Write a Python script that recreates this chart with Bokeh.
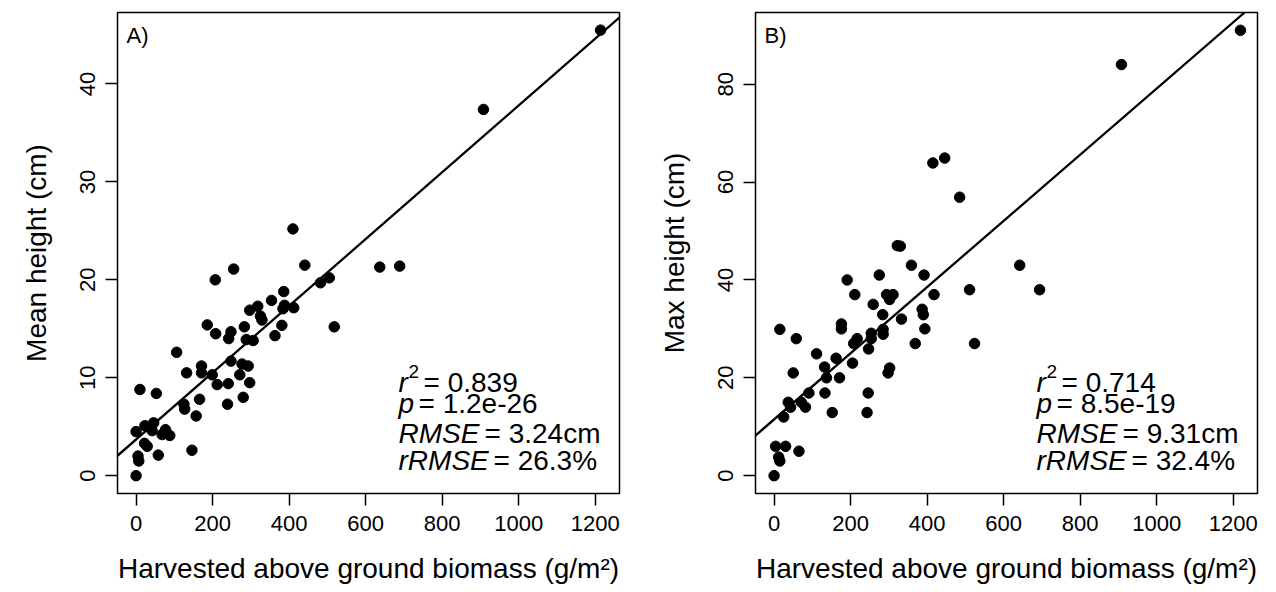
from bokeh.plotting import figure
from bokeh.models import Range1d, FixedTicker, Label, Slope
from bokeh.layouts import row
from bokeh.embed import file_html
from bokeh.resources import INLINE

FONT = "Liberation Sans"

# ---- data ----
biomass_a = [1214, 908, 410, 441, 637, 689, 255, 207, 505, 482, 386, 354, 318, 297, 388, 384,
             412, 325, 329, 186, 283, 381, 518, 208, 248, 242, 288, 306, 363, 106, 248, 277,
             293, 171, 132, 171, 199, 271, 212, 241, 297, 10, 53, 280, 125, 166, 127, 239,
             157, 46, 23, 0, 42, 77, 68, 88, 22, 29, 146, 58, 5, 7, 0]
mean_height = [45.5, 37.4, 25.2, 21.5, 21.3, 21.4, 21.1, 20.0, 20.2, 19.7, 18.8, 17.9, 17.3, 16.9, 17.4, 17.05,
               17.15, 16.3, 15.9, 15.4, 15.2, 15.35, 15.2, 14.5, 14.7, 14.0, 13.9, 13.8, 14.3, 12.6, 11.7, 11.4,
               11.2, 11.2, 10.5, 10.5, 10.3, 10.3, 9.3, 9.4, 9.5, 8.8, 8.4, 8.0, 7.3, 7.8, 6.8, 7.3,
               6.1, 5.4, 5.1, 4.5, 4.6, 4.7, 4.2, 4.1, 3.3, 3.0, 2.6, 2.1, 2.0, 1.5, 0.0]

biomass_b = [1219, 908, 415, 446, 485, 322, 330, 359, 642, 191, 275, 392, 211, 294, 311, 302,
             418, 511, 694, 259, 284, 387, 390, 333, 176, 176, 285, 285, 394, 254, 254, 217,
             208, 369, 524, 247, 15, 58, 111, 162, 132, 205, 302, 298, 50, 137, 171, 91,
             133, 246, 37, 71, 43, 82, 25, 152, 243, 4, 30, 65, 12, 15, 0]
max_height = [91.0, 84.0, 63.9, 64.9, 56.9, 47.0, 46.9, 43.0, 43.0, 40.0, 41.0, 41.0, 37.0, 37.0, 37.0, 36.0,
              37.0, 38.0, 38.0, 35.0, 32.9, 34.0, 32.9, 32.0, 31.0, 30.0, 29.9, 28.9, 30.0, 29.1, 28.0, 28.0,
              27.0, 27.0, 27.0, 25.9, 29.9, 28.0, 24.9, 24.0, 22.2, 23.0, 22.0, 21.0, 21.0, 20.0, 20.0, 16.9,
              16.9, 16.9, 15.0, 15.0, 14.0, 14.0, 12.0, 12.9, 12.9, 6.0, 6.0, 5.0, 3.8, 3.0, 0.0]

x_ticks = [0, 200, 400, 600, 800, 1000, 1200]
y_ticks_a = [0, 10, 20, 30, 40]
y_ticks_b = [0, 20, 40, 60, 80]

fit_a = (3.7, 0.0341)    # intercept, slope
fit_b = (11.5, 0.0676)

stats_a = ["0.839", "1.2e-26", "3.24cm", "26.3%"]
stats_b = ["0.714", "8.5e-19", "9.31cm", "32.4%"]

x_range = (-48.6, 1263.6)
y_range_a = (-1.82, 47.3)
y_range_b = (-3.64, 94.64)


def add_label(p, x, y, text, size, style="normal", dx=0, dy=0):
    p.add_layout(Label(x=x, y=y, text=text, x_offset=dx, y_offset=dy,
                       text_font=FONT, text_font_size=f"{size}px", text_font_style=style,
                       text_color="black", text_align="left", text_baseline="middle"))


def make_panel(x, y, ylab, yr, yticks, fit, stats, tag, ann_y, tag_y):
    p = figure(width=638, height=592, x_range=Range1d(*x_range), y_range=Range1d(*yr),
               output_backend="svg", toolbar_location=None,
               min_border_left=117, min_border_right=19, min_border_top=12, min_border_bottom=99)
    p.grid.visible = False
    p.outline_line_color = "black"
    p.outline_line_width = 1.5
    p.outline_line_alpha = 1.0
    p.background_fill_color = "white"
    p.border_fill_color = "white"

    p.xaxis.ticker = FixedTicker(ticks=x_ticks)
    p.yaxis.ticker = FixedTicker(ticks=yticks)
    for ax in (p.xaxis[0], p.yaxis[0]):
        ax.axis_line_color = None
        ax.major_tick_line_color = "black"
        ax.major_tick_line_width = 1.5
        ax.major_tick_out = 12
        ax.major_tick_in = 0
        ax.minor_tick_line_color = None
        ax.major_label_text_font = FONT
        ax.major_label_text_font_size = "22px"
        ax.major_label_text_color = "black"
        ax.major_label_standoff = 10
        ax.axis_label_text_font = FONT
        ax.axis_label_text_font_size = "28px"
        ax.axis_label_text_font_style = "normal"
        ax.axis_label_text_color = "black"
    p.xaxis.axis_label_standoff = 19
    p.yaxis.axis_label_standoff = 26
    p.yaxis.major_label_orientation = "vertical"
    p.xaxis.axis_label = "Harvested above ground biomass (g/m²)"
    p.yaxis.axis_label = ylab

    p.add_layout(Slope(gradient=fit[1], y_intercept=fit[0], line_color="black", line_width=2.3))
    p.scatter(x, y, size=10.5, color="black", line_color="black")

    x0 = 686
    f = 28
    # r^2
    add_label(p, x0, ann_y[0], "r", f, "italic")
    add_label(p, x0, ann_y[0], "2", 19, "normal", dx=10, dy=11)
    add_label(p, x0, ann_y[0], "= " + stats[0], f, "normal", dx=25)
    # p
    add_label(p, x0, ann_y[1], "p", f, "italic")
    add_label(p, x0, ann_y[1], "= " + stats[1], f, "normal", dx=20)
    # RMSE
    add_label(p, x0, ann_y[2], "RMSE", f, "italic")
    add_label(p, x0, ann_y[2], "= " + stats[2], f, "normal", dx=86)
    # rRMSE
    add_label(p, x0, ann_y[3], "rRMSE", f, "italic")
    add_label(p, x0, ann_y[3], "= " + stats[3], f, "normal", dx=95)

    add_label(p, -25, tag_y, tag, 22)
    return p


# annotation rows (data units) for pixel rows ~382, 403, 433, 460
pa = make_panel(biomass_a, mean_height, "Mean height (cm)", y_range_a, y_ticks_a, fit_a, stats_a,
                "A)", [9.52, 7.37, 4.31, 1.55], 45.0)
pb = make_panel(biomass_b, max_height, "Max height (cm)", y_range_b, y_ticks_b, fit_b, stats_b,
                "B)", [19.04, 14.75, 8.62, 3.11], 89.95)

layout = row(pa, pb)
open("out.html", "w").write(file_html(layout, INLINE))
